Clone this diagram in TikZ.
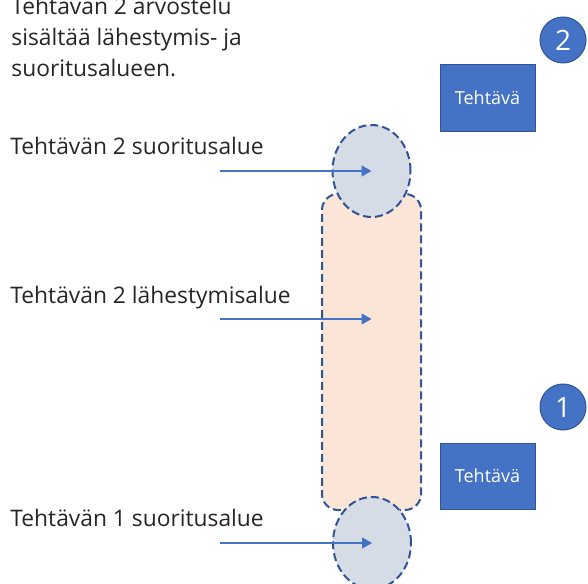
\documentclass[tikz,border=0pt]{standalone}
\usepackage{fontspec}
\setmainfont{Open Sans}
\usetikzlibrary{positioning}
\usetikzlibrary{arrows.meta}
\usetikzlibrary{shapes}
\definecolor{taskblue}{HTML}{4472C4}
\definecolor{edgeblue}{HTML}{2F5597}
\definecolor{zonegrey}{HTML}{D6DCE5}
\definecolor{zonepeach}{HTML}{FBE5D6}
\definecolor{txt}{HTML}{262626}
\tikzset{
zone/.style={
  ellipse,
  inner sep=0pt,
  minimum width=39pt,
  minimum height=46pt,
  draw=edgeblue,
  dash pattern=on 4pt off 2pt,
  line width=1pt,
  fill=zonegrey
  },
zonerect/.style={
  rectangle,
  rounded corners=8pt,
  inner sep=0pt,
  minimum width=49.5pt,
  minimum height=158pt,
  draw=edgeblue,
  dash pattern=on 4pt off 2pt,
  line width=1pt,
  fill=zonepeach
  },
task/.style={
  rectangle,
  inner sep=0pt,
  minimum width=47.5pt,
  minimum height=33pt,
  draw=edgeblue,
  line width=0.5pt,
  fill=taskblue,
  text=white,
  font=\fontsize{9}{11}\selectfont
  },
num/.style={
  circle,
  inner sep=0pt,
  minimum size=23pt,
  draw=edgeblue,
  line width=0.5pt,
  fill=taskblue,
  text=white,
  font=\fontsize{14}{16}\selectfont
  },
lbl/.style={
  anchor=base west,
  inner sep=0pt,
  text=txt,
  font=\fontsize{11.4}{15.5}\selectfont
  }
}

\begin{document}
\begin{tikzpicture}[x=0.5pt,y=-0.5pt,>={Triangle[length=5pt,width=5.5pt]}]
            \useasboundingbox (0,0) rectangle (588,583);
            \clip (0,0) rectangle (588,583);
            % zones
            \node[zonerect] (r) at (371.5,352) {};
            \node[zone] (o2) at (371.5,171) {};
            \node[zone] (o1) at (372,543) {};
            % tasks
            \node[task] (t2) at (487.5,98) {Tehtävä};
            \node[task] (t1) at (487.5,476) {Tehtävä};
            \node[num] (n2) at (563,40) {2};
            \node[num] (n1) at (563,407) {1};
            % labels
            \node[lbl,align=left] (h) at (11,76) {Tehtävän 2 arvostelu\\sisältää lähestymis- ja\\suoritusalueen.};
            \node[lbl] (l2) at (10,155) {Tehtävän 2 suoritusalue};
            \node[lbl] (lr) at (10,303) {Tehtävän 2 lähestymisalue};
            \node[lbl] (l1) at (10,526) {Tehtävän 1 suoritusalue};
            \coordinate (s2) at (220,171);
            \coordinate (sr) at (220,319);
            \coordinate (s1) at (220,543);
            \path[->,color=taskblue,line width=0.6pt]
            (s2) edge [] node {} (o2.center)
            (sr) edge [] node {} (sr -| r.center)
            (s1) edge [] node {} (o1.center)
            ;
        \end{tikzpicture}
\end{document}
